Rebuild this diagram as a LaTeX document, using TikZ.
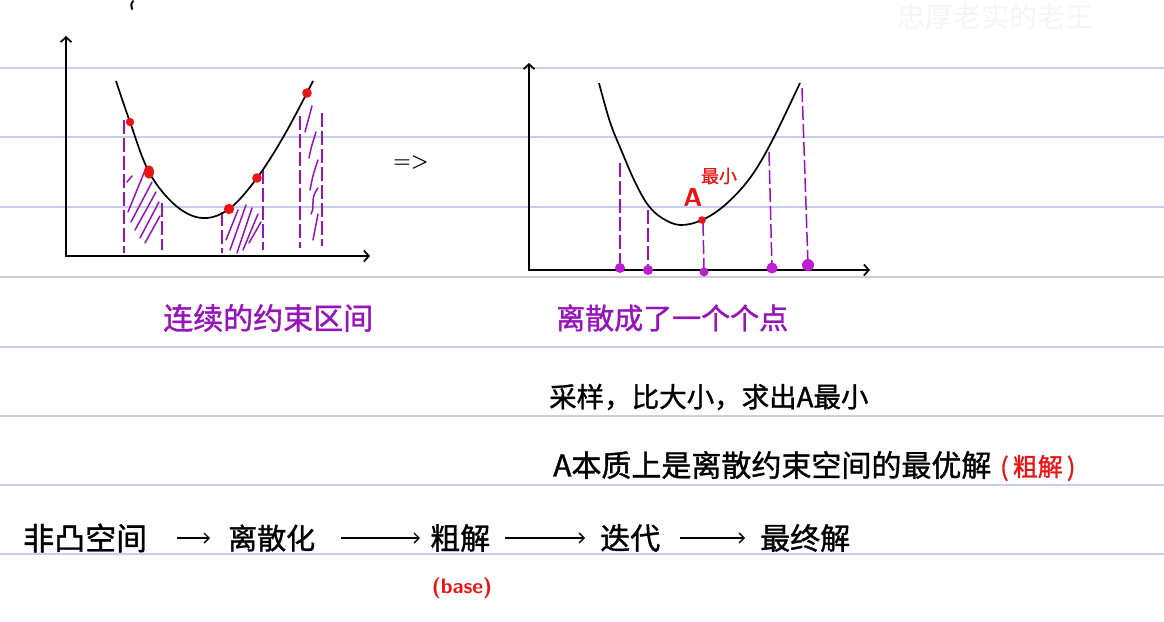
\documentclass[tikz,border=0pt]{standalone}
\usepackage{fontspec}
\newfontfamily\cjk{Noto Sans CJK SC}
\newfontfamily\cjkb{Noto Sans CJK SC}[FakeBold=1.2]
\usetikzlibrary{arrows.meta}
\definecolor{purp}{RGB}{150,20,185}
\definecolor{dotp}{RGB}{190,30,210}
\definecolor{redc}{RGB}{235,20,20}
\definecolor{rulec}{RGB}{200,205,236}
\definecolor{ruleg}{RGB}{205,205,212}
\definecolor{wmark}{RGB}{245,245,247}
\begin{document}
\begin{tikzpicture}[x=1pt,y=-1pt,
  rule/.style={draw=rulec, line width=1.3pt},
  axis/.style={line width=1.7pt, -{Straight Barb[length=5pt,width=11pt]}},
  curve/.style={line width=1.7pt},
  hatch/.style={draw=purp, line width=1.5pt, line cap=round},
  vdash/.style={draw=purp, line width=1.5pt, dash pattern=on 14pt off 4pt},
  txt/.style={inner sep=0pt, anchor=west, font=\cjkb\fontsize{30}{34}\selectfont},
  flow/.style={line width=1.4pt, -{Straight Barb[length=5pt,width=10pt]}},
]
\useasboundingbox (0,0) rectangle (1164,621);
\fill[white] (0,0) rectangle (1164,621);

% ruled paper lines
\foreach \yy in {68,137,207,347,416,485,554}{\draw[rule] (0,\yy) -- (1164,\yy);}
\draw[draw=ruleg, line width=1.3pt] (0,277) -- (1164,277);

% watermark
\node[inner sep=0pt, text=wmark, font=\cjk\fontsize{28}{30}\selectfont] (wm) at (995,17) {忠厚老实的老王};

% cut-off bracket at top
\draw[line width=2pt, line cap=round] (133,1) .. controls (131,4) .. (132,9);

% ---------------- left plot ----------------
\draw[axis] (66,256) -- (66,36);
\draw[axis] (65,256) -- (370,256);
% hatched regions
\draw[vdash] (124,120) -- (124,253);
\draw[vdash] (162,203) -- (162,250);
\draw[hatch] (127,182) -- (132,176);
\draw[hatch] (128,212) -- (146,168);
\draw[hatch] (131,222) -- (152,182);
\draw[hatch] (135,230) -- (156,192);
\draw[hatch] (140,238) -- (159,202);
\draw[hatch] (145,243) -- (160,216);
\draw[vdash] (222,212) -- (222,253);
\draw[vdash] (263,170) -- (263,250);
\draw[hatch] (226,240) -- (238,210);
\draw[hatch] (230,250) -- (246,205);
\draw[hatch] (237,253) -- (252,208);
\draw[hatch] (243,250) -- (258,214);
\draw[hatch] (249,243) -- (261,222);
\draw[vdash] (300,116) -- (300,248);
\draw[vdash] (322,113) -- (322,246);
\draw[hatch] (305,132) -- (312,106);
\draw[hatch] (309,158) .. controls (311,148) .. (316,132);
\draw[hatch] (310,190) .. controls (313,175) .. (318,160);
\draw[hatch] (311,214) .. controls (316,205) and (309,200) .. (318,188);
\draw[hatch] (313,240) -- (318,214);
% curve
\draw[curve] plot[smooth, tension=0.6] coordinates {(116,81) (130,122) (149,172) (175,205) (202,218) (229,209) (257,178) (285,134) (313,81)};
% red sample points
\fill[redc] (130,122) circle (4.2pt);
\fill[redc] (149,172) ellipse (5pt and 6.5pt);
\fill[redc] (229,209) circle (5.2pt);
\fill[redc] (257,178) circle (4.8pt);
\fill[redc] (307,93) circle (4.8pt);

% implies sign
\node[inner sep=0pt, font=\fontsize{20}{22}\selectfont\bfseries] (imp) at (411,162) {=>};

% ---------------- right plot ----------------
\draw[axis] (529,270) -- (529,63);
\draw[axis] (528,270) -- (870,270);
\draw[vdash] (620,163) -- (620,268);
\draw[vdash] (648,210) -- (648,270);
\draw[vdash] (703,222) -- (704,271);
\draw[vdash] (769,152) -- (772,268);
\draw[vdash] (802,88) -- (808,265);
\draw[curve] plot[smooth, tension=0.6] coordinates {(599,83) (610,122) (622,152) (635,182) (648,205) (662,218) (680,225) (702,220) (725,205) (750,178) (772,141) (800,83)};
\fill[redc] (702,220) circle (3.8pt);
\foreach \px/\py/\r in {620/268/5, 648/270/5, 704/272/4.5, 772/268/5.5, 808/265/6}{\fill[dotp] (\px,\py) circle (\r pt);}
\node[inner sep=0pt, text=redc, font=\fontsize{26}{28}\selectfont\sffamily\bfseries] (lblA) at (693,197) {A};
\node[inner sep=0pt, text=redc, font=\cjkb\fontsize{18}{20}\selectfont] (lblmin) at (719,176) {最小};

% captions
\node[txt, text=purp] (cap1) at (163,318) {连续的约束区间};
\node[txt, text=purp, font=\cjkb\fontsize{29}{33}\selectfont] (cap2) at (556,318) {离散成了一个个点};

% notes
\node[txt, font=\cjkb\fontsize{27.5}{30}\selectfont] (note1) at (549,397) {采样，比大小，求出A最小};
\node[txt] (note2) at (553,465) {A本质上是离散约束空间的最优解};
\node[txt, text=redc, font=\cjkb\fontsize{25}{28}\selectfont] (note3) at (1000,468) {(\,粗解\,)};

% flow
\node[txt, font=\cjkb\fontsize{31}{34}\selectfont] (f1) at (23,538) {非凸空间};
\node[txt, font=\cjkb\fontsize{29}{33}\selectfont] (f2) at (228,538) {离散化};
\node[txt] (f3) at (430,538) {粗解};
\node[txt] (f4) at (600,538) {迭代};
\node[txt] (f5) at (760,538) {最终解};
\draw[flow, shorten <=30pt, shorten >=18pt] (f1.east) -- (f2.west);
\draw[flow, shorten <=26pt, shorten >=10pt] (f2.east) -- (f3.west);
\draw[flow, shorten <=15pt, shorten >=15pt] (f3.east) -- (f4.west);
\draw[flow, shorten <=20pt, shorten >=15pt] (f4.east) -- (f5.west);
\node[inner sep=0pt, text=redc, font=\fontsize{21}{23}\selectfont\sffamily\bfseries] (base) at (462,588) {(base)};
\end{tikzpicture}
\end{document}
